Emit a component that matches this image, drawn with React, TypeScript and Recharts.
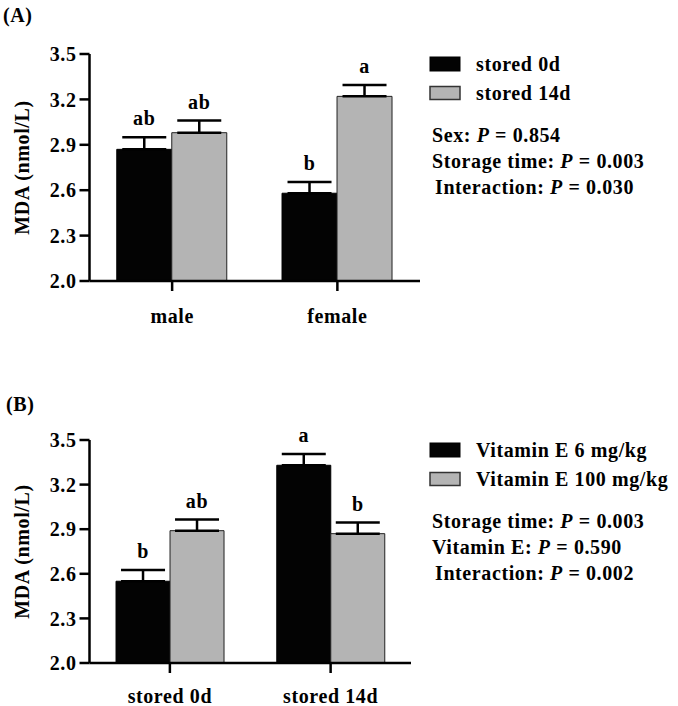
import React from "react";
import { Bar, BarChart, ErrorBar, LabelList, XAxis, YAxis } from "recharts";

// Panel A: sex x storage time
const groupsA = ["male", "female"];
const seriesA = ["stored 0d", "stored 14d"];
const stored0dA = [2.87, 2.58];
const stored14dA = [2.98, 3.22];
const err0dA = [0.08, 0.075];
const err14dA = [0.08, 0.075];
const letters0dA = ["ab", "b"];
const letters14dA = ["ab", "a"];
const statsA = [
  ["Sex: ", "0.854"],
  ["Storage time: ", "0.003"],
  ["Interaction: ", "0.030"],
];

// Panel B: storage time x vitamin E
const groupsB = ["stored 0d", "stored 14d"];
const seriesB = ["Vitamin E 6 mg/kg", "Vitamin E 100 mg/kg"];
const vitE6B = [2.55, 3.33];
const vitE100B = [2.89, 2.87];
const err6B = [0.075, 0.075];
const err100B = [0.075, 0.075];
const letters6B = ["b", "a"];
const letters100B = ["ab", "b"];
const statsB = [
  ["Storage time: ", "0.003"],
  ["Vitamin E: ", "0.590"],
  ["Interaction: ", "0.002"],
];

const yTicks = [2.0, 2.3, 2.6, 2.9, 3.2, 3.5];
const Y_MIN = 2.0;

const FONT = "'Liberation Serif', 'Times New Roman', serif";
const textStyle = {
  fontFamily: FONT,
  fontWeight: 700,
  fontSize: 20,
  letterSpacing: 0.6,
  fill: "#000",
};

const BLACK = "#030303";
const GREY = "#b4b4b4";

const buildRows = (
  groups: string[],
  a: number[],
  b: number[],
  ea: number[],
  eb: number[],
  la: string[],
  lb: string[]
) =>
  groups.map((g, i) => ({
    name: g,
    a: a[i],
    b: b[i],
    ea: [0, ea[i]],
    eb: [0, eb[i]],
    la: la[i],
    lb: lb[i],
  }));

const letterContent = (vals: number[], errs: number[]) => (props: any) => {
  const vb = props.viewBox && props.viewBox.width != null ? props.viewBox : props;
  const { x, y, width, height } = vb;
  const i = props.index;
  if (x == null || i == null) return null;
  const pxPerUnit = height / (vals[i] - Y_MIN);
  const top = y - errs[i] * pxPerUnit;
  return (
    <text x={x + width / 2} y={top - 12} textAnchor="middle" style={textStyle}>
      {props.value}
    </text>
  );
};

type PanelProps = {
  rows: any[];
  a: number[];
  b: number[];
  ea: number[];
  eb: number[];
  width: number;
  height: number;
  tickMargin: number;
};

const Panel = ({ rows, a, b, ea, eb, width, height, tickMargin }: PanelProps) => (
  <BarChart
    width={width}
    height={height}
    data={rows}
    margin={{ top: 54, right: 20, left: 29.5, bottom: 29 }}
    barCategoryGap="16.5%"
    barGap={0}
  >
    <XAxis
      dataKey="name"
      axisLine={{ stroke: "#000", strokeWidth: 2.5 }}
      tickLine={{ stroke: "#000", strokeWidth: 2.5 }}
      tickSize={10}
      tickMargin={tickMargin}
      height={30}
      tick={textStyle}
    />
    <YAxis
      domain={[2, 3.5]}
      ticks={yTicks}
      allowDataOverflow
      width={60}
      axisLine={{ stroke: "#000", strokeWidth: 2.5 }}
      tickLine={{ stroke: "#000", strokeWidth: 2.5 }}
      tickSize={10}
      tickMargin={3}
      tickFormatter={(v: number) => v.toFixed(1)}
      tick={textStyle}
      label={{
        content: ({ viewBox }: any) => {
          const cx = viewBox.x - 7.5;
          const cy = viewBox.y + viewBox.height / 2;
          return (
            <text
              x={cx}
              y={cy}
              transform={`rotate(-90 ${cx} ${cy})`}
              textAnchor="middle"
              dominantBaseline="central"
              style={textStyle}
            >
              MDA (nmol/L)
            </text>
          );
        },
      }}
    />
    <Bar dataKey="a" fill={BLACK} stroke="#000" strokeWidth={1} isAnimationActive={false}>
      <ErrorBar dataKey="ea" width={22} strokeWidth={2.5} stroke="#000" />
      <LabelList dataKey="la" content={letterContent(a, ea)} />
    </Bar>
    <Bar dataKey="b" fill={GREY} stroke="#222" strokeWidth={1} isAnimationActive={false}>
      <ErrorBar dataKey="eb" width={22} strokeWidth={2.5} stroke="#000" />
      <LabelList dataKey="lb" content={letterContent(b, eb)} />
    </Bar>
  </BarChart>
);

const LegendBlock = ({
  series,
  stats,
  top,
}: {
  series: string[];
  stats: string[][];
  top: number;
}) => (
  <g>
    <rect x={430} y={top} width={30} height={14} fill={BLACK} stroke="#000" />
    <text x={476} y={top + 14} style={textStyle}>
      {series[0]}
    </text>
    <rect x={430} y={top + 29.5} width={30} height={13} fill={GREY} stroke="#333" strokeWidth={1.5} />
    <text x={476} y={top + 42.5} style={textStyle}>
      {series[1]}
    </text>
    {stats.map((s, i) => (
      <text key={i} x={i === 2 ? 435 : 432} y={top + 85 + i * 26} style={textStyle}>
        {s[0]}
        <tspan fontStyle="italic">P</tspan>
        {" = " + s[1]}
      </text>
    ))}
  </g>
);

export default function App() {
  const rowsA = buildRows(groupsA, stored0dA, stored14dA, err0dA, err14dA, letters0dA, letters14dA);
  const rowsB = buildRows(groupsB, vitE6B, vitE100B, err6B, err100B, letters6B, letters100B);
  return (
    <div
      style={{
        position: "absolute",
        left: 0,
        top: 0,
        width: 678,
        height: 706,
        background: "#fff",
        overflow: "hidden",
      }}
    >
      <div style={{ position: "absolute", left: 0, top: 0 }}>
        <Panel rows={rowsA} a={stored0dA} b={stored14dA} ea={err0dA} eb={err14dA} width={440} height={340} tickMargin={18} />
      </div>
      <div style={{ position: "absolute", left: 0, top: 386 }}>
        <Panel rows={rowsB} a={vitE6B} b={vitE100B} ea={err6B} eb={err100B} width={431} height={336} tickMargin={16} />
      </div>
      <svg
        width={678}
        height={706}
        style={{ position: "absolute", left: 0, top: 0, pointerEvents: "none" }}
      >
        <text x={3} y={22} style={textStyle}>
          (A)
        </text>
        <text x={6} y={411} style={textStyle}>
          (B)
        </text>
        <LegendBlock series={seriesA} stats={statsA} top={57} />
        <LegendBlock series={seriesB} stats={statsB} top={443} />
      </svg>
    </div>
  );
}
